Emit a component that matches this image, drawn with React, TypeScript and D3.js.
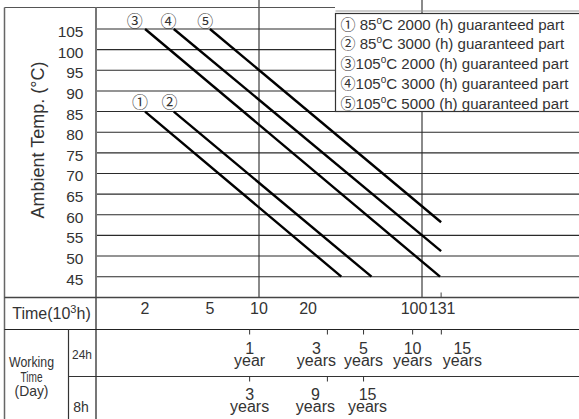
import React from "react";
import * as d3 from "d3";

// ---- data ----
const seriesIds = ["①", "②", "③", "④", "⑤"];
const startHours = [2, 3, 2, 3, 5]; // 10^3 h
const startTemps = [85, 85, 105, 105, 105];
const endHours = [32, 49, 129, 131, 131];
const endTemps = [45, 45, 45, 51.2, 58.2];

const legendIds = ["①", "②", "③", "④", "⑤"];
const legendTemps = [" 85", " 85", "105", "105", "105"];
const legendHours = ["2000", "3000", "2000", "3000", "5000"];

const tempTicks = [105, 100, 95, 90, 85, 80, 75, 70, 65, 60, 55, 50, 45];
const gridHours = [10, 100];
const timeTicks = [2, 5, 10, 20, 100, 131];
const timeTickLabels = ["2", "5", "10", "20", "100", "131"];
const markTick = [131];

const hoursPerYear24 = 8.76; // 10^3 h per year at 24h/day
const years24 = [1, 3, 5, 10, 15];
const years24Unit = ["year", "years", "years", "years", "years"];
const years8 = [3, 9, 15];
const years8Unit = ["years", "years", "years"];

// ---- layout ----
const W = 579;
const H = 419;
const L = { left: 4.5, plotLeft: 96, colSep: 68.5, top: 7.5, timeTop: 297.5, row24Top: 329.5, row8Top: 376.5, right: 579 };
const circleOffsets = [[-5, -11], [-4.3, -11], [-10.3, -9], [-5.3, -9], [-4.7, -9]];
const timeLabelDx = [0, 0, 0, 0, -8, 1];
const years24Dx = [0, -11, 0, 0, 21];
const years8Dx = [0, -12, 4];

const x = d3.scaleLog().domain([1, 100]).range([96, 422]);
const y = d3.scaleLinear().domain([45, 105]).range([276.7, 29]);

const FONT = "'Liberation Sans', Arial, 'Noto Sans', sans-serif";
const CJK = "'Noto Sans CJK JP', 'DejaVu Sans', sans-serif";
const TXT = "#333";
const GRID = "#2a2a2a";

export default function App() {
  const line = d3.line<[number, number]>().x((d) => x(d[0])).y((d) => y(d[1]));
  return (
    <svg width={W} height={H} style={{ position: "absolute", left: 0, top: 0, background: "#fff" }} fontFamily={FONT}>
      <rect x={0} y={0} width={W} height={H} fill="#fff" />
      {/* horizontal grid */}
      {tempTicks.map((t) => (
        <line key={"h" + t} x1={L.plotLeft} x2={L.right} y1={y(t)} y2={y(t)} stroke={GRID} strokeWidth={1.1} />
      ))}
      {/* vertical grid */}
      {gridHours.map((h) => (
        <line key={"v" + h} x1={x(h)} x2={x(h)} y1={0} y2={L.timeTop} stroke={GRID} strokeWidth={1.1} />
      ))}
      {/* frame */}
      <line x1={L.left} x2={335} y1={L.top} y2={L.top} stroke="#555" strokeWidth={1.2} />
      <line x1={L.left} x2={L.left} y1={L.top} y2={H} stroke="#666" strokeWidth={1.5} />
      <line x1={L.plotLeft} x2={L.plotLeft} y1={L.top} y2={H} stroke="#777" strokeWidth={2} />
      <line x1={L.left} x2={L.right} y1={L.timeTop} y2={L.timeTop} stroke="#444" strokeWidth={1.3} />
      <line x1={L.left} x2={L.right} y1={L.row24Top} y2={L.row24Top} stroke="#222" strokeWidth={1.2} />
      <line x1={L.colSep} x2={L.right} y1={L.row8Top} y2={L.row8Top} stroke="#333" strokeWidth={1.2} />
      <line x1={L.colSep} x2={L.colSep} y1={L.row24Top} y2={H} stroke="#333" strokeWidth={1.2} />

      {/* legend */}
      <rect x={335.5} y={13.5} width={250} height={98} fill="#fff" stroke="#333" strokeWidth={1.2} />
      <line x1={335.5} x2={L.right} y1={11} y2={11} stroke="#999" strokeWidth={1} />
      {legendIds.map((id, i) => (
        <text key={"lg" + i} x={340.5} y={29.5 + i * 19.8} fontSize={15.1} fill={TXT}>
          <tspan fontFamily={CJK} fontSize={15}>{id}</tspan>
          {legendTemps[i]}
          <tspan fontSize={10} dy={-6}>o</tspan>
          <tspan dy={6}>{"C " + legendHours[i] + " (h) guaranteed part"}</tspan>
        </text>
      ))}

      {/* series lines */}
      {seriesIds.map((id, i) => (
        <path
          key={"s" + i}
          d={line([[startHours[i], startTemps[i]], [endHours[i], endTemps[i]]]) || ""}
          stroke="#000"
          strokeWidth={2.4}
          fill="none"
        />
      ))}
      {seriesIds.map((id, i) => (
        <text
          key={"c" + i}
          x={x(startHours[i]) + circleOffsets[i][0]}
          y={y(startTemps[i]) + circleOffsets[i][1]}
          fontSize={16}
          fill={TXT}
          textAnchor="middle"
          dominantBaseline="central"
          fontFamily={CJK}
        >
          {id}
        </text>
      ))}

      {/* y tick labels */}
      {tempTicks.map((t) => (
        <text key={"yt" + t} x={83.5} y={y(t) + 8} fontSize={15.5} fill={TXT} textAnchor="end">
          {t}
        </text>
      ))}
      <text transform="translate(44,140) rotate(-90)" fontSize={18} fill={TXT} textAnchor="middle">
        Ambient Temp. (°C)
      </text>

      {/* time row */}
      <text x={51.5} y={319} fontSize={16} fill={TXT} textAnchor="middle">
        Time(10<tspan fontSize={11} dy={-6}>3</tspan>
        <tspan dy={6}>h)</tspan>
      </text>
      {timeTicks.map((t, i) => (
        <text key={"tt" + i} x={x(t) + timeLabelDx[i]} y={313.5} fontSize={16} fill={TXT} textAnchor="middle">
          {timeTickLabels[i]}
        </text>
      ))}
      {markTick.map((t) => (
        <line key={"mt" + t} x1={x(t)} x2={x(t)} y1={292.5} y2={L.timeTop} stroke="#444" strokeWidth={1} />
      ))}

      {/* working time */}
      <text x={31.5} y={367} fontSize={14.5} fill={TXT} textAnchor="middle">
        <tspan x={31.5} textLength={45} lengthAdjust="spacingAndGlyphs">Working</tspan>
        <tspan x={31.5} dy={14.5} textLength={22} lengthAdjust="spacingAndGlyphs">Time</tspan>
        <tspan x={31.5} dy={14.5} textLength={34} lengthAdjust="spacingAndGlyphs">(Day)</tspan>
      </text>
      <text x={82} y={359} fontSize={13.5} fill={TXT} textAnchor="middle" textLength={20} lengthAdjust="spacingAndGlyphs">24h</text>
      <text x={81} y={411.5} fontSize={14} fill={TXT} textAnchor="middle">8h</text>

      {years24.map((yr, i) => {
        const px = x(yr * hoursPerYear24);
        const lx = px + years24Dx[i];
        return (
          <g key={"y24" + i}>
            <line x1={px} x2={px} y1={L.row24Top} y2={L.row24Top + 5} stroke="#333" strokeWidth={1} />
            <text x={lx} y={353.5} fontSize={16} fill={TXT} textAnchor="middle">
              <tspan x={lx}>{yr}</tspan>
              <tspan x={lx} dy={12}>{years24Unit[i]}</tspan>
            </text>
          </g>
        );
      })}
      {years8.map((yr, i) => {
        const px = x((yr * hoursPerYear24) / 3);
        const lx = px + years8Dx[i];
        return (
          <g key={"y8" + i}>
            <line x1={px} x2={px} y1={L.row8Top} y2={L.row8Top + 5} stroke="#333" strokeWidth={1} />
            <text x={lx} y={399.5} fontSize={16} fill={TXT} textAnchor="middle">
              <tspan x={lx}>{yr}</tspan>
              <tspan x={lx} dy={12}>{years8Unit[i]}</tspan>
            </text>
          </g>
        );
      })}
    </svg>
  );
}
